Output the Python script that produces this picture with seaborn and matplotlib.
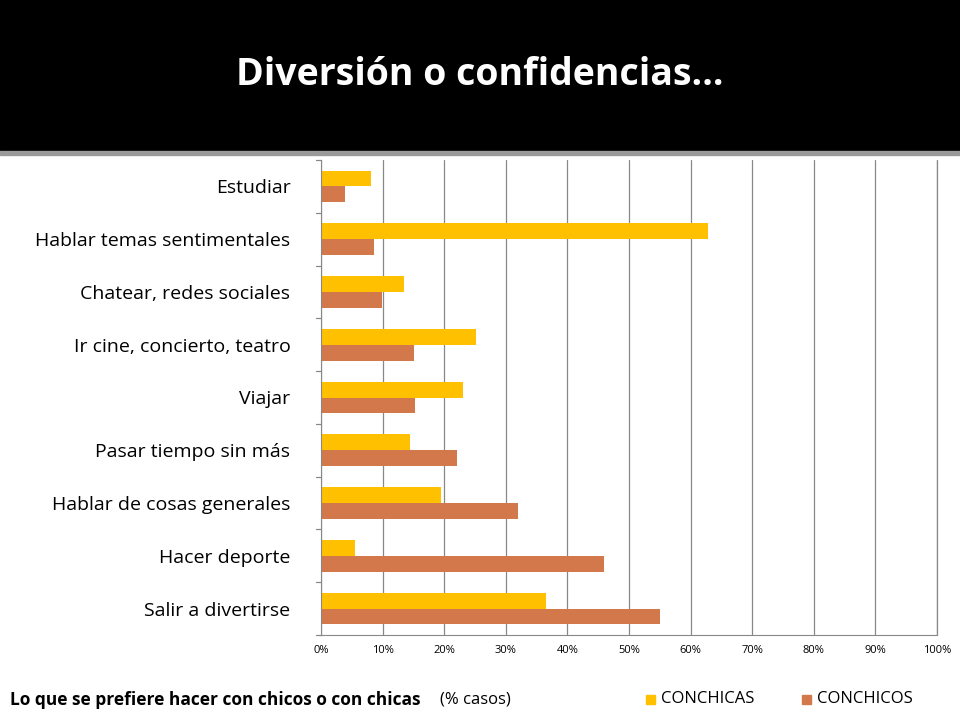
import matplotlib.pyplot as plt
import seaborn as sns
import pandas as pd
from matplotlib.patches import Rectangle

categorias = ['Estudiar', 'Hablar temas sentimentales', 'Chatear, redes sociales',
              'Ir cine, concierto, teatro', 'Viajar', 'Pasar tiempo sin más',
              'Hablar de cosas generales', 'Hacer deporte', 'Salir a divertirse']
con_chicas = [8.1, 62.8, 13.4, 25.2, 23.1, 14.4, 19.5, 5.5, 36.5]
con_chicos = [3.9, 8.6, 9.9, 15.1, 15.3, 22.1, 32.0, 45.9, 55.0]
series = ['CONCHICAS', 'CONCHICOS']
colores = ['#FFC000', '#D2784A']
ticks = list(range(0, 101, 10))

df = pd.DataFrame({'cat': categorias * 2,
                   'serie': [series[0]] * 9 + [series[1]] * 9,
                   'valor': con_chicas + con_chicos})

sns.set_style('white')
plt.rcParams['font.family'] = ['Open Sans', 'DejaVu Sans']
plt.rcParams['text.color'] = 'black'

fig = plt.figure(figsize=(9.6, 7.2), dpi=100)
fig.patches.append(Rectangle((0, 1 - 150 / 720), 1, 150 / 720, transform=fig.transFigure,
                             color='black', zorder=0))
fig.patches.append(Rectangle((0, 1 - 155 / 720), 1, 4 / 720, transform=fig.transFigure,
                             color='#9a9a9a', zorder=0))
fig.text(0.5, 1 - 75 / 720, 'Diversión o confidencias…', color='white', fontsize=27,
         fontweight='bold', ha='center', va='center')

ax = fig.add_axes([321 / 960, 1 - 635 / 720, 616 / 960, 475 / 720])
sns.barplot(data=df, y='cat', x='valor', hue='serie', palette=colores, orient='h',
            width=0.6, ax=ax, legend=False, saturation=1, linewidth=0, edgecolor='none')
ax.set_xlim(0, 100)
ax.set_ylim(8.5, -0.5)
ax.set_xticks(ticks)
ax.set_xticklabels([f'{t}%' for t in ticks], fontsize=8, color='black')
ax.xaxis.grid(True, color='#888888', linewidth=0.9)
ax.set_axisbelow(True)
ax.set_xlabel('')
ax.set_ylabel('')
ax.tick_params(axis='y', length=0, labelsize=14, pad=22, labelcolor='black')
for s in ['top', 'right']:
    ax.spines[s].set_visible(False)
ax.spines['left'].set_color('#888888')
ax.spines['bottom'].set_color('#888888')
ax.axvline(100, color='#888888', lw=0.9, clip_on=False)
for i in range(10):
    ax.plot([-0.008, 0], [i - 0.5, i - 0.5], color='#888888', lw=0.9,
            transform=ax.get_yaxis_transform(), clip_on=False)

fig.text(10 / 960, 1 - 700 / 720, 'Lo que se prefiere hacer con chicos o con chicas',
         fontsize=12.5, fontweight='bold', va='center')
fig.text(440 / 960, 1 - 700 / 720, '(% casos)', fontsize=12, va='center')
for x0, lab, c in [(646, series[0], colores[0]), (802, series[1], colores[1])]:
    fig.patches.append(Rectangle((x0 / 960, 1 - 704 / 720), 9 / 960, 9 / 720,
                                 transform=fig.transFigure, color=c))
    fig.text((x0 + 15) / 960, 1 - 699 / 720, lab, fontsize=12, va='center')

fig.savefig('out.png', dpi=100)
